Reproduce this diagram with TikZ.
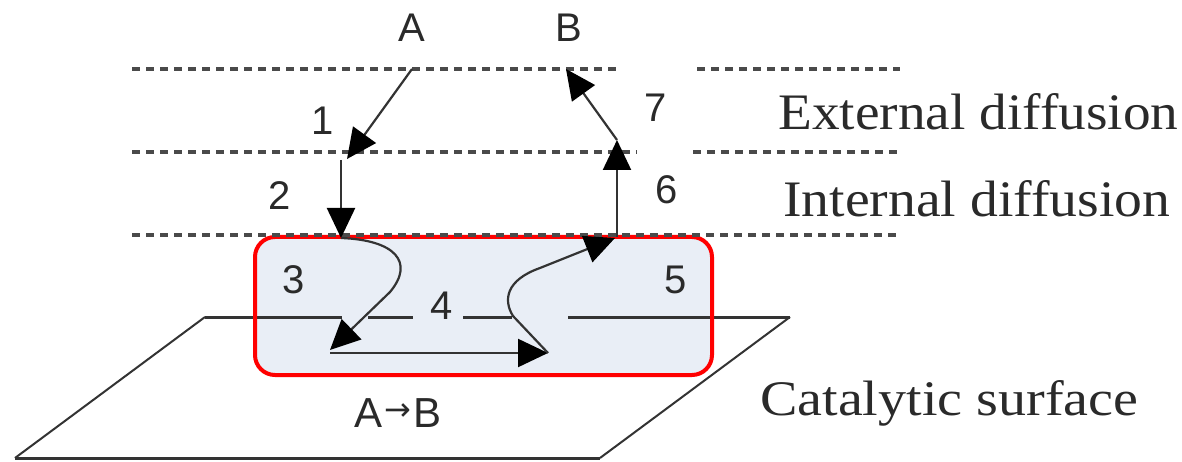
\documentclass[tikz,border=0pt]{standalone}
\usepackage{fontspec}
\setmainfont{Liberation Sans}
\newfontfamily\serifl{Liberation Serif}
\newfontfamily\arrowfont{DejaVu Sans}
\usetikzlibrary{arrows.meta}
\definecolor{boxfill}{HTML}{E9EEF6}
\definecolor{ln}{HTML}{333333}
\definecolor{dsh}{HTML}{4A4A4A}
\definecolor{txt}{HTML}{2A2A2A}
\tikzset{
  layer/.style={draw=dsh, line width=3.5pt, dash pattern=on 8pt off 6pt},
  flow/.style={draw=ln, line width=2.2pt, -{Triangle[length=30pt,width=28pt,fill=black,color=black]}},
  num/.style={font=\fontsize{40}{40}\selectfont, text=txt, inner sep=0pt},
  side/.style={text=txt, inner sep=0pt, anchor=base west},
  plane/.style={draw=ln, line width=2pt},
  planeh/.style={draw=ln, line width=3pt},
  zone/.style={draw=red, line width=4pt, rounded corners=20pt}
}
\begin{document}
\begin{tikzpicture}[x=1pt,y=-1pt]
\useasboundingbox (0,0) rectangle (1182,462);
% zone box fill
\fill[boxfill, rounded corners=20pt] (255,237) rectangle (712,375);
% catalytic plane
\coordinate (p1) at (205,317);
\coordinate (p2) at (790,317);
\coordinate (p3) at (600,458);
\coordinate (p4) at (15,458);
\draw[plane] (p1) -- (p4);
\draw[plane] (p2) -- (p3);
\draw[planeh] (p4) -- (p3);
\draw[planeh] (p1) -- (342,317);
\draw[planeh] (368,317) -- (413,317);
\draw[planeh] (463,317) -- (512,317);
\draw[planeh] (568,317) -- (p2);
% zone border
\draw[zone] (255,237) rectangle (712,375);
% dashed layers
\draw[layer] (132,69) -- (617,69);
\draw[layer] (697,69) -- (900,69);
\draw[layer] (132,152) -- (637,152);
\draw[layer] (693,152) -- (897,152);
\draw[layer] (132,235) -- (897,235);
% labels
\node[num] (A) at (412,28) {A};
\node[num] (B) at (569,28) {B};
\node[num] (n1) at (323,121) {1};
\node[num] (n2) at (280,196) {2};
\node[num] (n3) at (294,280) {3};
\node[num] (n4) at (442,306) {4};
\node[num] (n5) at (676,280) {5};
\node[num] (n6) at (667,190) {6};
\node[num] (n7) at (656,108) {7};
\node[side] (ext) at (778,130) {\serifl\resizebox{400pt}{36pt}{External diffusion}};
\node[side] (int) at (783,217) {\serifl\resizebox{387pt}{36pt}{Internal diffusion}};
\node[side] (cat) at (760,415) {\serifl\resizebox{378pt}{35pt}{Catalytic surface}};
\node[side, font=\fontsize{42}{42}\selectfont] (rx) at (354,427) {A\kern2pt\raisebox{7pt}{\arrowfont\fontsize{32}{32}\selectfont →}\kern2pt B};
% path points
\coordinate (a0) at (412,69);
\coordinate (a1) at (347,159);
\coordinate (a2) at (341,160);
\coordinate (a3) at (341,238);
\coordinate (c1) at (390,292);
\coordinate (a4) at (330,350);
\coordinate (a5) at (330,353);
\coordinate (a6) at (548,353);
\coordinate (d1) at (513,316);
\coordinate (d2) at (540,268);
\coordinate (a7) at (615,238);
\coordinate (b0) at (617,237);
\coordinate (b1) at (617,140);
\coordinate (b2) at (566,69);
% flows
\draw[flow] (a0) -- (a1);
\draw[flow] (a2) -- (a3);
\draw[flow] (a3) .. controls (395,240) and (415,262) .. (c1) -- (a4);
\draw[flow] (a5) -- (a6);
\draw[flow] (a6) -- (d1) .. controls (503,300) and (506,280) .. (d2) -- (a7);
\draw[flow] (b0) -- (b1);
\draw[flow] (b1) -- (b2);
\end{tikzpicture}
\end{document}
